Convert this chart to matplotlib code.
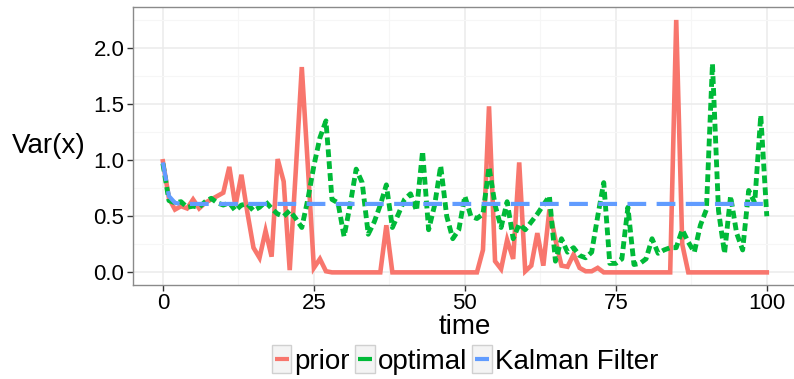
import numpy as np
import matplotlib
matplotlib.use("Agg")
import matplotlib.pyplot as plt
from matplotlib.lines import Line2D
from matplotlib.patches import Rectangle
from matplotlib.legend_handler import HandlerLine2D

plt.rcParams['font.family'] = ['Liberation Sans', 'DejaVu Sans']

time = np.arange(101)

prior = [0.99, 0.66, 0.56, 0.59, 0.57, 0.65, 0.57, 0.62, 0.65, 0.68,
         0.71, 0.94, 0.59, 0.87, 0.53, 0.22, 0.13, 0.37, 0.14, 1.01,
         0.81, 0.02, 0.90, 1.83, 0.95, 0.04, 0.12, 0.01, 0.0, 0.0,
         0.0, 0.0, 0.0, 0.0, 0.0, 0.0, 0.0, 0.42, 0.0, 0.0,
         0.0, 0.0, 0.0, 0.0, 0.0, 0.0, 0.0, 0.0, 0.0, 0.0,
         0.0, 0.0, 0.0, 0.20, 1.48, 0.10, 0.03, 0.29, 0.12, 0.98,
         0.01, 0.06, 0.35, 0.06, 0.56, 0.29, 0.06, 0.05, 0.16, 0.04,
         0.01, 0.01, 0.04, 0.0, 0.0, 0.0, 0.0, 0.0, 0.0, 0.0,
         0.0, 0.0, 0.0, 0.0, 0.0, 2.25, 0.25, 0.0, 0.0, 0.0,
         0.0, 0.0, 0.0, 0.0, 0.0, 0.0, 0.0, 0.0, 0.0, 0.0,
         0.0]

optimal = [0.97, 0.64, 0.62, 0.63, 0.58, 0.59, 0.58, 0.63, 0.66, 0.62,
           0.60, 0.62, 0.55, 0.60, 0.61, 0.55, 0.58, 0.63, 0.57, 0.52,
           0.50, 0.55, 0.48, 0.40, 0.65, 0.95, 1.20, 1.35, 0.65, 0.62,
           0.32, 0.60, 0.92, 0.80, 0.34, 0.45, 0.60, 0.78, 0.40, 0.52,
           0.65, 0.70, 0.55, 1.08, 0.38, 0.60, 0.95, 0.50, 0.30, 0.38,
           0.68, 0.50, 0.48, 0.52, 0.94, 0.60, 0.40, 0.63, 0.30, 0.43,
           0.38, 0.45, 0.52, 0.60, 0.68, 0.10, 0.30, 0.18, 0.22, 0.15,
           0.13, 0.18, 0.50, 0.80, 0.08, 0.08, 0.12, 0.58, 0.07, 0.08,
           0.12, 0.30, 0.17, 0.20, 0.22, 0.22, 0.38, 0.27, 0.18, 0.42,
           0.56, 1.86, 0.55, 0.17, 0.68, 0.35, 0.20, 0.73, 0.62, 1.40,
           0.50]

kalman = [0.98, 0.68, 0.62] + [0.61] * 98

series_names = ["prior", "optimal", "Kalman Filter"]
colors = ["#F8766D", "#00BA38", "#619CFF"]

W, H = 794, 379
fig = plt.figure(figsize=(W / 100, H / 100), dpi=100)
left, right, top, bottom = 132.7, 797.0, 7.3, 285.0
ax = fig.add_axes([left / W, 1 - bottom / H, (right - left) / W, (bottom - top) / H])

ax.plot(time, prior, color=colors[0], lw=3.3, solid_joinstyle='miter', label=series_names[0], zorder=3)
ax.plot(time, optimal, color=colors[1], lw=3.5, dashes=(1.6, 0.85), dash_capstyle='butt',
        label=series_names[1], zorder=4)
ax.plot(time, kalman, color=colors[2], lw=3.0, dashes=(4.5, 2.5), dash_capstyle='butt',
        label=series_names[2], zorder=5)

ax.set_xlim(-5, 105)
ax.set_ylim(-0.1125, 2.3625)
ax.set_xticks([0, 25, 50, 75, 100])
ax.set_xticks([12.5, 37.5, 62.5, 87.5], minor=True)
ax.set_yticks([0.0, 0.5, 1.0, 1.5, 2.0])
ax.set_yticks([0.25, 0.75, 1.25, 1.75, 2.25], minor=True)
ax.set_yticklabels(["0.0", "0.5", "1.0", "1.5", "2.0"])
ax.grid(which='major', color='#EBEBEB', lw=1.1, zorder=0)
ax.grid(which='minor', color='#F6F6F6', lw=0.8, zorder=0)
ax.set_axisbelow(True)
ax.tick_params(which='major', length=4, width=1, color='#333333', labelsize=16,
               labelcolor='black', pad=2)
ax.tick_params(which='minor', length=0)
for s in ax.spines.values():
    s.set_color('#8A8A8A')
    s.set_linewidth(1.0)

ax.set_xlabel("time", fontsize=20, labelpad=0)
ax.set_ylabel("Var(x)", fontsize=20, rotation=0, ha='center', va='center')
ax.yaxis.set_label_coords((49 - left) / (right - left), 0.5)


class BoxHandler(HandlerLine2D):
    def create_artists(self, legend, orig_handle, xdescent, ydescent, width, height, fontsize, trans):
        rect = Rectangle((-xdescent, -ydescent - 3), width, height + 6, facecolor='#F4F4F4',
                         edgecolor='#D0D0D0', lw=1.0, transform=trans)
        y = -ydescent + height / 2
        ln = Line2D([-xdescent + 2, -xdescent + width - 2], [y, y], color=orig_handle.get_color(),
                    lw=3.0, solid_capstyle='butt', transform=trans)
        return [rect, ln]


handles = [Line2D([], [], color=c) for c in colors]
leg = fig.legend(handles, series_names, loc='center', bbox_to_anchor=(465 / W, 1 - 362 / H),
                 ncol=3, frameon=False, fontsize=20, handlelength=0.7, handletextpad=0.1,
                 columnspacing=0.2, borderpad=0, handler_map={Line2D: BoxHandler()})

fig.savefig("out.png", dpi=100)
